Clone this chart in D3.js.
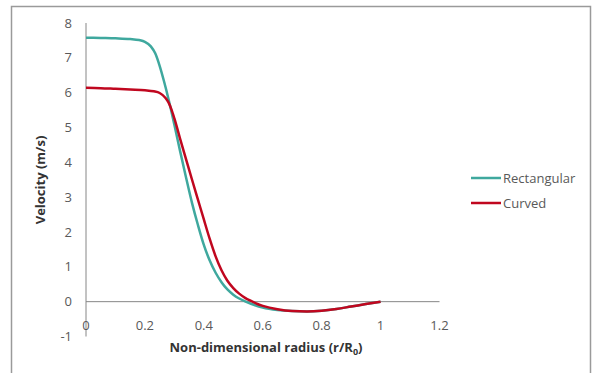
<!DOCTYPE html>
<html>
<head>
<meta charset="utf-8">
<script src="https://cdn.jsdelivr.net/npm/d3@7"></script>
<style>
  body { margin: 0; background: #fff; }
  svg { display: block; font-family: "Open Sans", "Liberation Sans", sans-serif; }
</style>
</head>
<body>
<svg></svg>
<script>
// radius (r/R0) sample points
var rectX = [0, 0.05, 0.1, 0.15, 0.18, 0.2, 0.22, 0.235, 0.25, 0.265, 0.28, 0.3, 0.32, 0.34, 0.36, 0.38, 0.4, 0.42, 0.44, 0.46, 0.48, 0.5, 0.52, 0.54, 0.56, 0.6, 0.65, 0.7, 0.75, 0.8, 0.85, 0.9, 0.95, 1.0];
var rectY = [7.58, 7.57, 7.56, 7.54, 7.51, 7.46, 7.33, 7.13, 6.77, 6.32, 5.82, 5.08, 4.3, 3.55, 2.83, 2.2, 1.63, 1.18, 0.83, 0.56, 0.35, 0.2, 0.09, 0.01, -0.06, -0.17, -0.24, -0.27, -0.28, -0.26, -0.21, -0.14, -0.07, 0];

var curvX = [0, 0.05, 0.1, 0.15, 0.2, 0.23, 0.25, 0.27, 0.28, 0.29, 0.3, 0.32, 0.34, 0.36, 0.38, 0.4, 0.42, 0.44, 0.46, 0.48, 0.5, 0.52, 0.54, 0.56, 0.58, 0.6, 0.65, 0.7, 0.75, 0.8, 0.85, 0.9, 0.95, 1.0];
var curvY = [6.14, 6.13, 6.11, 6.09, 6.07, 6.04, 5.99, 5.85, 5.72, 5.52, 5.26, 4.66, 4.08, 3.5, 2.93, 2.36, 1.8, 1.3, 0.9, 0.6, 0.39, 0.23, 0.11, 0.02, -0.06, -0.12, -0.22, -0.27, -0.28, -0.26, -0.21, -0.14, -0.07, 0];

var xTicks = [0, 0.2, 0.4, 0.6, 0.8, 1, 1.2];
var yTicks = [-1, 0, 1, 2, 3, 4, 5, 6, 7, 8];
var seriesNames = ["Rectangular", "Curved"];
var seriesColors = ["#3fa89e", "#c0071f"];

var width = 592, height = 373;
var svg = d3.select("svg").attr("width", width).attr("height", height);

// chart frame
svg.append("rect")
   .attr("x", 11.5).attr("y", 6.5)
   .attr("width", 579).attr("height", 380)
   .attr("fill", "#fff")
   .attr("stroke", "#9a9a9a")
   .attr("stroke-width", 1.5);

var x = d3.scaleLinear().domain([0, 1.2]).range([86, 439.5]);
var y = d3.scaleLinear().domain([-1, 8]).range([336.5, 23]);

var tickColor = "#595959";

// y axis line
svg.append("line")
   .attr("x1", x(0)).attr("x2", x(0))
   .attr("y1", y(8)).attr("y2", y(-1))
   .attr("stroke", "#868686").attr("stroke-width", 1);

// zero line (x axis)
svg.append("line")
   .attr("x1", x(0)).attr("x2", x(1.2))
   .attr("y1", y(0)).attr("y2", y(0))
   .attr("stroke", "#868686").attr("stroke-width", 1);

svg.selectAll("text.ytick")
   .data(yTicks)
   .enter()
   .append("text")
   .attr("class", "ytick")
   .attr("x", 72)
   .attr("y", function(d){ return y(d); })
   .attr("dy", "0.35em")
   .attr("text-anchor", "end")
   .attr("font-size", 13)
   .attr("fill", tickColor)
   .text(function(d){ return d; });

svg.selectAll("text.xtick")
   .data(xTicks)
   .enter()
   .append("text")
   .attr("class", "xtick")
   .attr("x", function(d){ return x(d); })
   .attr("y", 325)
   .attr("dy", "0.35em")
   .attr("text-anchor", "middle")
   .attr("font-size", 13)
   .attr("fill", tickColor)
   .text(function(d){ return d; });

// axis titles
var xt = svg.append("text")
   .attr("x", 266).attr("y", 352)
   .attr("text-anchor", "middle")
   .attr("font-size", 13)
   .attr("font-weight", "bold")
   .attr("fill", "#333");
xt.append("tspan").text("Non-dimensional radius (r/R");
xt.append("tspan").attr("font-size", 9).attr("dy", 3).text("0");
xt.append("tspan").attr("dy", -3).text(")");

svg.append("text")
   .attr("transform", "translate(45,180) rotate(-90)")
   .attr("text-anchor", "middle")
   .attr("font-size", 13)
   .attr("font-weight", "bold")
   .attr("fill", "#333")
   .text("Velocity (m/s)");

var lineGen = d3.line()
   .x(function(d){ return x(d[0]); })
   .y(function(d){ return y(d[1]); })
   .curve(d3.curveMonotoneX);

var series = [d3.zip(rectX, rectY), d3.zip(curvX, curvY)];

svg.selectAll("path.series")
   .data(series)
   .enter()
   .append("path")
   .attr("class", "series")
   .attr("d", lineGen)
   .attr("fill", "none")
   .attr("stroke", function(d, i){ return seriesColors[i]; })
   .attr("stroke-width", 2.5)
   .attr("stroke-linejoin", "round");

// legend
var legend = svg.selectAll("g.legend")
   .data(seriesNames)
   .enter()
   .append("g")
   .attr("class", "legend")
   .attr("transform", function(d, i){ return "translate(471," + (178 + i * 25) + ")"; });

legend.append("line")
   .attr("x1", 0).attr("x2", 30)
   .attr("stroke", function(d, i){ return seriesColors[i]; })
   .attr("stroke-width", 2.5);

legend.append("text")
   .attr("x", 32)
   .attr("dy", "0.35em")
   .attr("font-size", 13)
   .attr("fill", tickColor)
   .text(function(d){ return d; });
</script>
</body>
</html>
